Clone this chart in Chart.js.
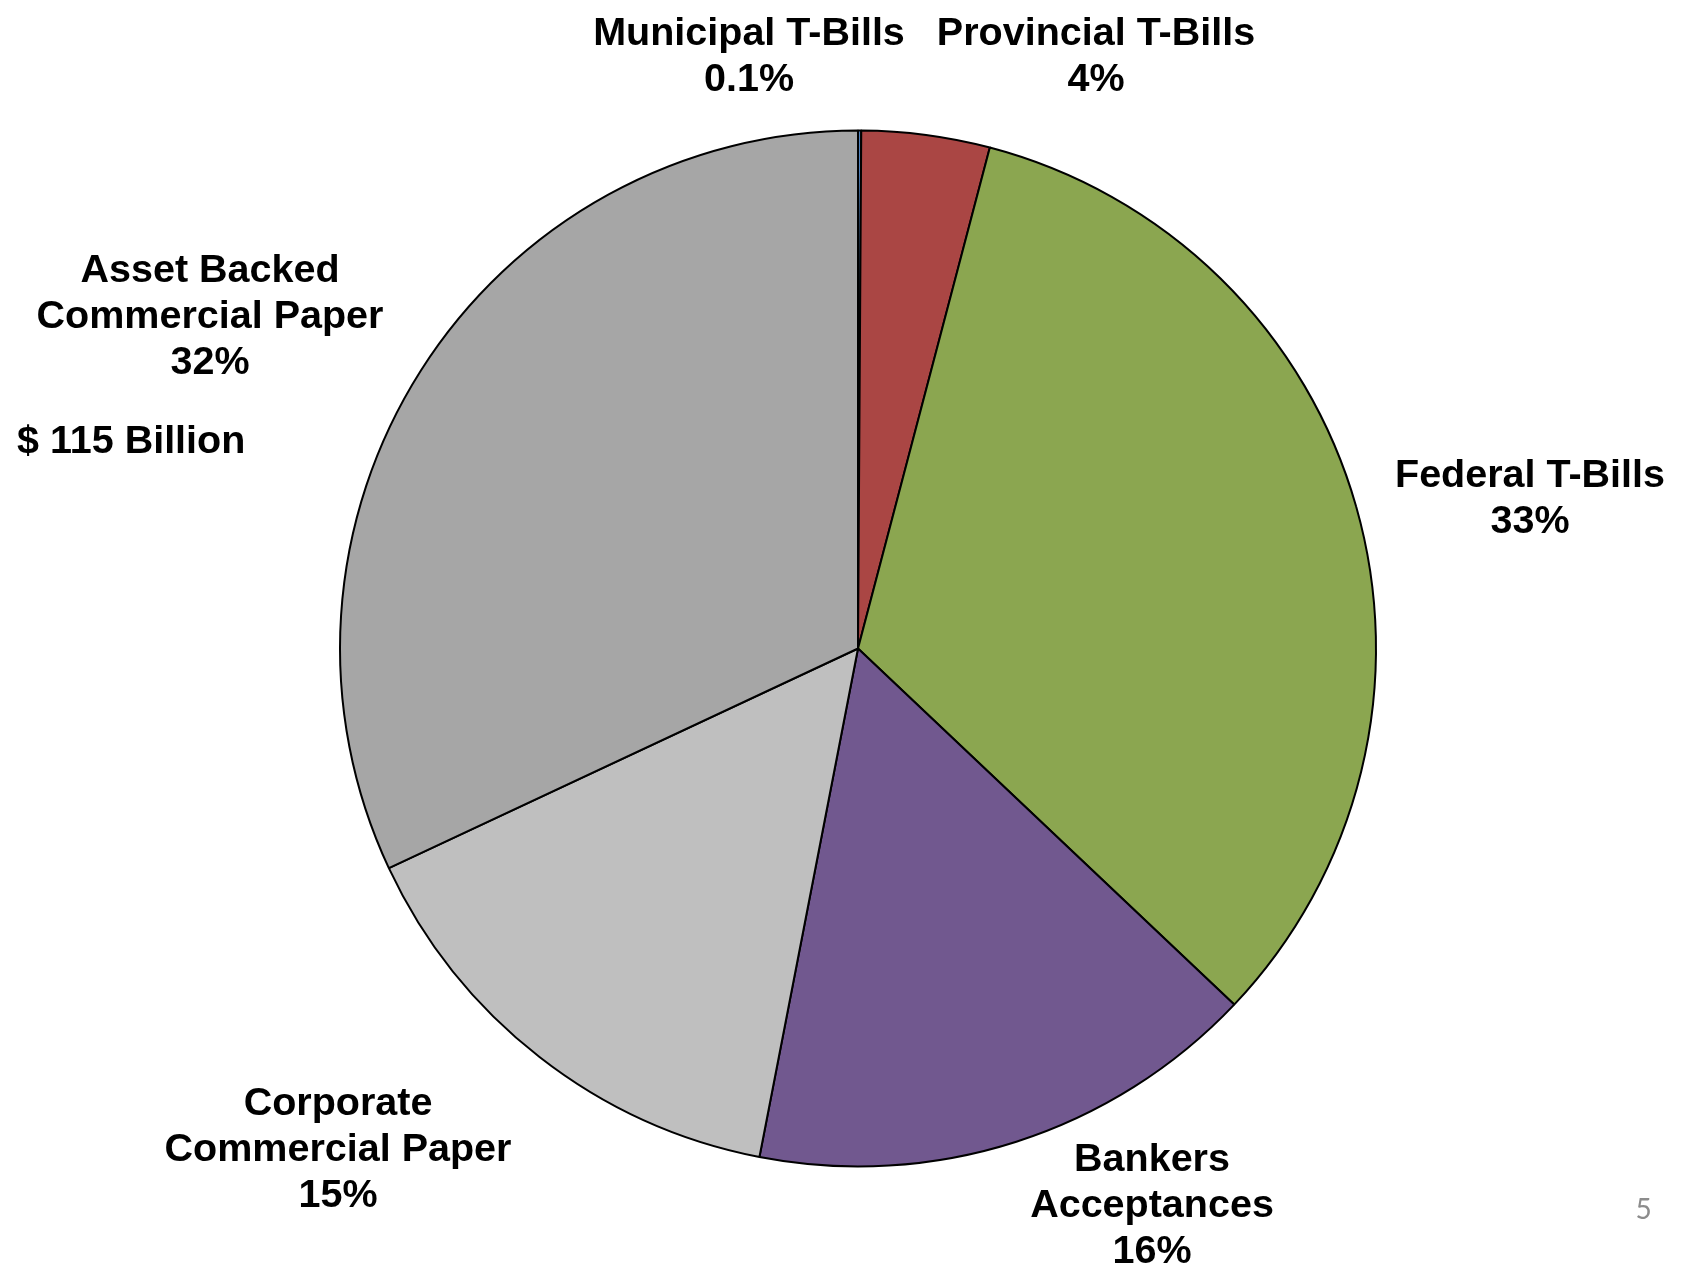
<!DOCTYPE html>
<html>
<head>
<meta charset="utf-8">
<script src="https://cdn.jsdelivr.net/npm/chart.js"></script>
<style>
    html, body { margin: 0; padding: 0; background: #fff; }
    .chart-container { position: relative; width: 1681px; height: 1267px; }
</style>
</head>
<body>
<div class="chart-container">
    <canvas id="mmkt"></canvas>
</div>
<script>
    // money market composition, % of total
    const categories = [
        ['Municipal T-Bills'],
        ['Provincial T-Bills'],
        ['Federal T-Bills'],
        ['Bankers', 'Acceptances'],
        ['Corporate', 'Commercial Paper'],
        ['Asset Backed', 'Commercial Paper']
    ];
    const shares = [0.1, 4, 33, 16, 15, 32];
    const totalNote = '$ 115 Billion';
    const pageNo = '5';

    const sliceColors = ['#4F81BD', '#AA4644', '#8BA650', '#71588F', '#BFBFBF', '#A6A6A6'];

    // where each label sits, relative to the pie centre (first line baseline, text centre)
    const labelOffsets = [
        [-109, -604], [238, -604], [672, -162],
        [294, 522], [-520, 466], [-648, -367]
    ];

    const pieLabels = {
        id: 'pieLabels',
        afterDatasetsDraw(chart) {
            const ctx = chart.ctx;
            const arc = chart.getDatasetMeta(0).data[0];
            const cx = arc.x, cy = arc.y;
            const lineH = 46;
            ctx.save();
            ctx.fillStyle = '#000';
            ctx.textAlign = 'center';
            ctx.textBaseline = 'alphabetic';
            ctx.font = 'bold 39.5px "Liberation Sans", Arial, sans-serif';
            categories.forEach((lines, i) => {
                const [dx, dy] = labelOffsets[i];
                const rows = lines.concat([shares[i] + '%']);
                rows.forEach((t, k) => ctx.fillText(t, cx + dx, cy + dy + k * lineH));
            });
            ctx.textAlign = 'left';
            ctx.font = 'bold 39.5px "Liberation Sans", Arial, sans-serif';
            ctx.fillText(totalNote, cx - 841, cy - 196);
            ctx.restore();

            ctx.save();
            ctx.fillStyle = '#8c8c8c';
            ctx.textAlign = 'center';
            ctx.font = '28px Lato, "Open Sans", sans-serif';
            ctx.fillText(pageNo, 1643.5, 1219);
            ctx.restore();
        }
    };

    new Chart(document.getElementById('mmkt'), {
        type: 'pie',
        data: {
            labels: categories.map(c => c.join(' ')),
            datasets: [{
                data: shares,
                backgroundColor: sliceColors,
                borderColor: '#000',
                borderWidth: 2,
                hoverBorderWidth: 2,
                hoverOffset: 0,
                offset: 0
            }]
        },
        options: {
            responsive: true,
            maintainAspectRatio: false,
            animation: false,
            events: [],
            radius: 518,
            layout: { padding: { left: 339, right: 304, top: 129.5, bottom: 99.5 } },
            plugins: {
                legend: { display: false },
                tooltip: { enabled: false }
            }
        },
        plugins: [pieLabels]
    });
</script>
</body>
</html>
